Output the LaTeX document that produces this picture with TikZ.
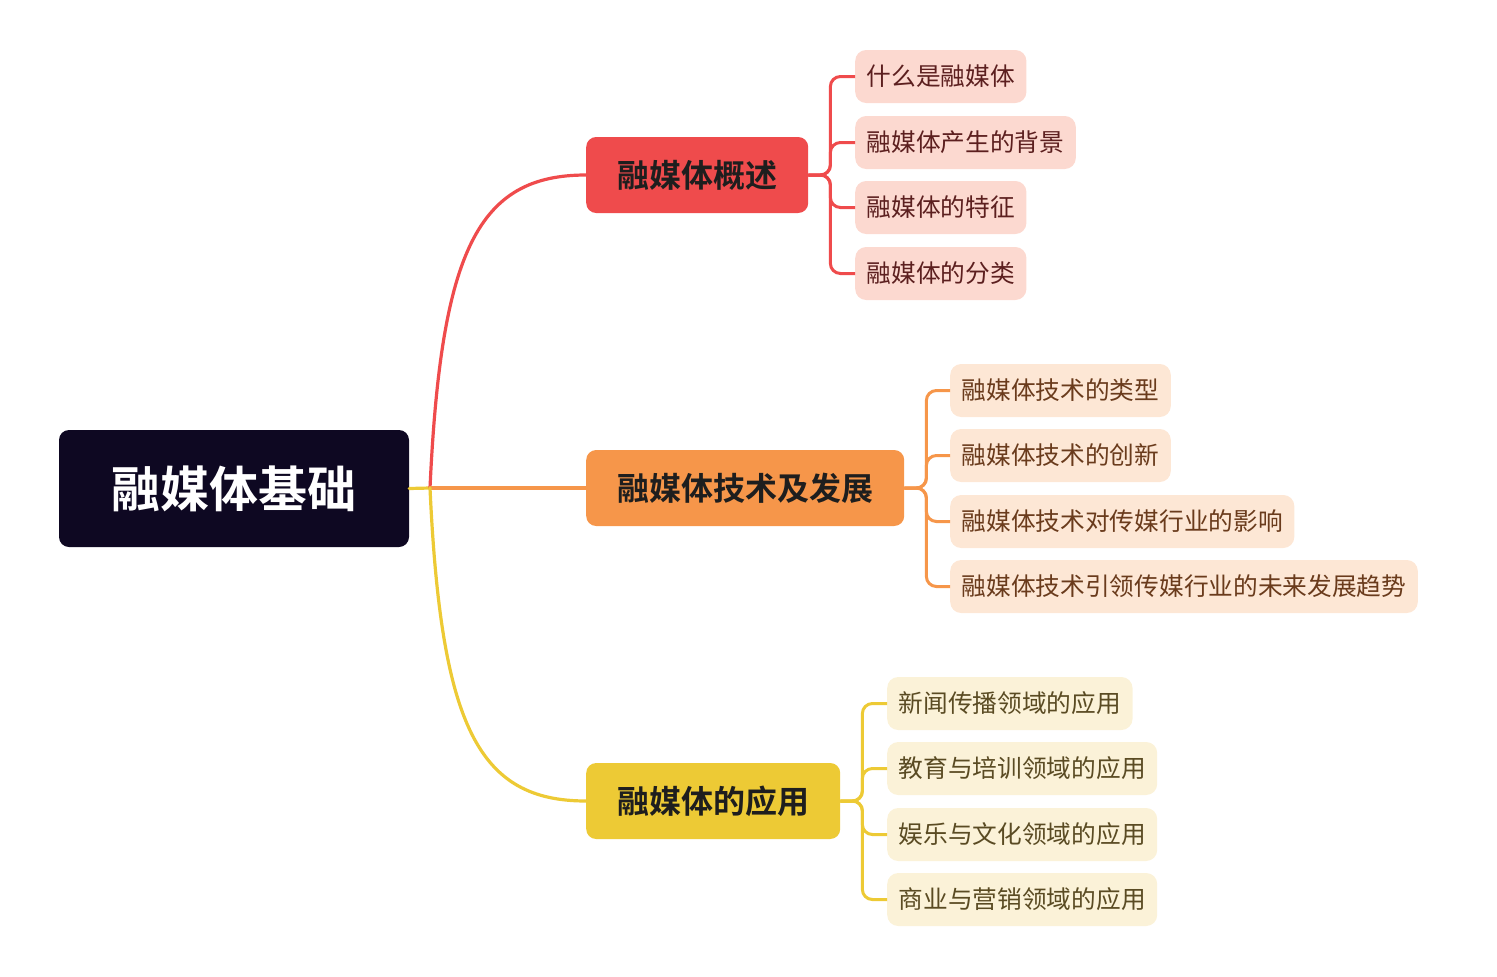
\documentclass[tikz,border=0pt]{standalone}
\usepackage{fontspec}
\newfontfamily\cjk{Noto Sans CJK SC}
\newfontfamily\cjkb{Noto Sans CJK SC Bold}
\definecolor{rootc}{HTML}{0E0822}
\definecolor{redc}{HTML}{EF4B4C}
\definecolor{orac}{HTML}{F6964A}
\definecolor{yelc}{HTML}{EDCA35}
\definecolor{pinkf}{HTML}{FCD9D0}
\definecolor{peachf}{HTML}{FDE7D5}
\definecolor{creamf}{HTML}{FBF2D8}
\definecolor{redt}{HTML}{5C1F1F}
\definecolor{orat}{HTML}{6A3B1C}
\definecolor{yelt}{HTML}{5A4B23}
\definecolor{brt}{HTML}{1E1E1E}
\tikzset{
  rootbox/.style={fill=rootc, rounded corners=10pt, text=white, font=\cjkb\fontsize{49}{49}\selectfont, minimum width=350pt, minimum height=117pt, inner sep=0pt},
  brbox/.style={rounded corners=10pt, text=brt, font=\cjkb\fontsize{32}{32}\selectfont, minimum height=76pt, inner xsep=31pt, inner ysep=0pt, anchor=west},
  leafbox/.style={rounded corners=11pt, font=\cjk\fontsize{24.7}{24.7}\selectfont, minimum height=53pt, inner xsep=11.5pt, inner ysep=0pt, anchor=west},
  leafA/.style={leafbox, fill=pinkf, text=redt},
  leafB/.style={leafbox, fill=peachf, text=orat},
  leafC/.style={leafbox, fill=creamf, text=yelt},
  conn/.style={line width=3.2pt, line cap=round},
  brk/.style={line width=3pt, rounded corners=10pt}
}
\begin{document}
\begin{tikzpicture}[x=1pt,y=-1pt]
\useasboundingbox (0,0) rectangle (1497,977);
% root
\node[rootbox] (root) at (234,488.5) {融媒体基础};
% branches
\node[brbox, fill=redc] (b1) at (586,175) {融媒体概述};
\node[brbox, fill=orac] (b2) at (586,488) {融媒体技术及发展};
\node[brbox, fill=yelc] (b3) at (586,801) {融媒体的应用};
\coordinate (hub) at (430,488);
% main connectors
\draw[conn, yelc] (root.east) -- (hub);
\draw[conn, redc] (hub) .. controls (441,250) and (478,175) .. (b1.west);
\draw[conn, orac] (hub) -- (b2.west);
\draw[conn, yelc] (hub) .. controls (441,726) and (478,801) .. (b3.west);
% leaves group 1
\node[leafA] (l11) at (855,76.5) {什么是融媒体};
\node[leafA] (l12) at (855,142.5) {融媒体产生的背景};
\node[leafA] (l13) at (855,207.5) {融媒体的特征};
\node[leafA] (l14) at (855,273.5) {融媒体的分类};
% leaves group 2
\node[leafB] (l21) at (950,390.5) {融媒体技术的类型};
\node[leafB] (l22) at (950,455.5) {融媒体技术的创新};
\node[leafB] (l23) at (950,521.5) {融媒体技术对传媒行业的影响};
\node[leafB] (l24) at (950,586.5) {融媒体技术引领传媒行业的未来发展趋势};
% leaves group 3
\node[leafC] (l31) at (887,703.5) {新闻传播领域的应用};
\node[leafC] (l32) at (887,768.5) {教育与培训领域的应用};
\node[leafC] (l33) at (887,834.5) {娱乐与文化领域的应用};
\node[leafC] (l34) at (887,899.5) {商业与营销领域的应用};
% brackets
\foreach \l in {l11,l12,l13,l14}
  \draw[brk, redc] (b1.east) -- ++(22,0) |- (\l.west);
\foreach \l in {l21,l22,l23,l24}
  \draw[brk, orac] (b2.east) -- ++(22,0) |- (\l.west);
\foreach \l in {l31,l32,l33,l34}
  \draw[brk, yelc] (b3.east) -- ++(22,0) |- (\l.west);
\end{tikzpicture}
\end{document}
